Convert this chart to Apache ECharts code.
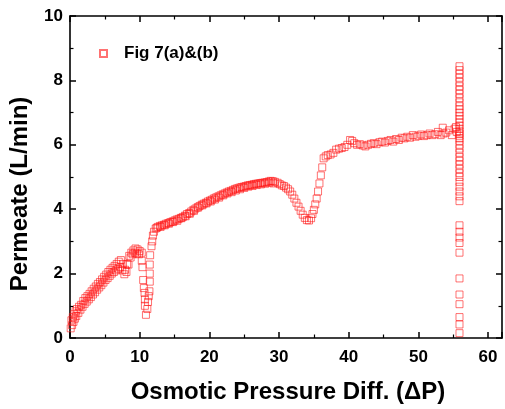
<!DOCTYPE html>
<html>
<head>
<meta charset="utf-8">
<script src="https://cdn.jsdelivr.net/npm/echarts@6/dist/echarts.min.js"></script>
<style>
html,body{margin:0;padding:0;background:#fff;}
#chart{width:505px;height:409px;}
</style>
</head>
<body>
<div id="chart"></div>
<script>
// ---- data (x = osmotic pressure diff, y = permeate) ----
var xTicks = [0, 10, 20, 30, 40, 50, 60];
var yTicks = [0, 2, 4, 6, 8, 10];
var seriesName = 'Fig 7(a)&(b)';

var rampUpper = [[0.2,0.55],[0.4,0.65],[0.6,0.75],[0.8,0.83],[1.0,0.9],[1.3,0.97],[1.6,1.03],[1.9,1.15],[2.2,1.24],[2.5,1.3],[2.8,1.37],[3.1,1.45],[3.4,1.53],[3.7,1.6],[4.0,1.68],[4.3,1.74],[4.6,1.82],[4.9,1.9],[5.2,1.97],[5.5,2.05],[5.8,2.12],[6.1,2.18],[6.4,2.24],[6.7,2.3],[7.0,2.37],[7.3,2.42],[7.6,2.3],[7.9,2.12],[8.2,2.3],[8.5,2.55],[8.8,2.65],[9.1,2.72],[9.4,2.78],[9.7,2.75],[10.0,2.7],[10.3,2.65]];
var rampLower = [[0.1,0.3],[0.3,0.4],[0.5,0.5],[0.7,0.6],[0.9,0.68],[1.2,0.78],[1.5,0.88],[1.8,0.97],[2.1,1.06],[2.4,1.13],[2.7,1.2],[3.0,1.27],[3.3,1.35],[3.6,1.42],[3.9,1.5],[4.2,1.57],[4.5,1.64],[4.8,1.72],[5.1,1.8],[5.4,1.86],[5.7,1.93],[6.0,2.0],[6.3,2.05],[6.6,2.1],[6.9,2.15],[7.2,2.2],[7.5,2.1],[7.8,1.98],[8.1,2.05],[8.4,2.28],[8.7,2.5],[9.0,2.6],[9.3,2.65],[9.6,2.62],[9.9,2.6]];
var dipA = [[10.3,2.4],[10.4,2.2],[10.5,1.8],[10.6,1.55],[10.7,1.4],[10.75,1.2],[10.75,1.0],[10.9,0.72],[11.1,0.9],[11.2,1.12],[11.3,1.3],[11.4,1.45],[11.45,1.75],[11.45,2.0],[11.45,2.28],[11.5,2.57],[11.7,2.85],[11.8,3.0],[11.9,3.18],[12.05,3.3]];
var riseB = [[12.3,3.4],[12.6,3.45],[12.9,3.48],[13.2,3.5],[13.5,3.52],[13.8,3.55],[14.1,3.57],[14.4,3.6],[14.7,3.62],[15.0,3.65],[15.3,3.68],[15.6,3.7],[15.9,3.73],[16.2,3.76],[16.5,3.8],[16.8,3.85],[17.1,3.88],[17.4,3.93],[17.7,3.98],[18.0,4.02],[18.3,4.06],[18.6,4.1],[18.9,4.14],[19.2,4.17],[19.5,4.2],[19.8,4.24],[20.1,4.27],[20.4,4.3],[20.7,4.34],[21.0,4.37],[21.3,4.4],[21.6,4.43],[21.9,4.46],[22.2,4.49],[22.5,4.52],[22.8,4.55],[23.1,4.57],[23.4,4.6],[23.7,4.63],[24.0,4.65],[24.3,4.67],[24.6,4.69],[24.9,4.7],[25.2,4.72],[25.5,4.74],[25.8,4.75],[26.1,4.76],[26.4,4.78],[26.7,4.79],[27.0,4.8],[27.3,4.81],[27.6,4.82],[27.9,4.83],[28.2,4.84],[28.5,4.86],[28.8,4.88],[29.1,4.87],[29.4,4.85]];
var riseBScatter = [[12.45,3.42],[13.0,3.45],[13.6,3.5],[14.2,3.55],[14.8,3.6],[15.4,3.64],[16.0,3.72],[16.6,3.78],[17.2,3.86],[17.8,3.95],[18.4,4.05],[19.0,4.12],[19.6,4.18],[20.2,4.24],[20.8,4.3],[21.4,4.36],[22.0,4.43],[22.6,4.49],[23.2,4.53],[23.8,4.58],[24.4,4.62],[25.0,4.66],[25.6,4.7],[26.2,4.72],[26.8,4.75],[27.4,4.77],[28.0,4.79],[28.6,4.82],[29.2,4.8]];
var dipB = [[29.8,4.82],[30.1,4.78],[30.4,4.74],[30.7,4.72],[31.0,4.67],[31.3,4.62],[31.6,4.55],[31.9,4.45],[32.2,4.33],[32.5,4.2],[32.8,4.08],[33.1,3.95],[33.4,3.83],[33.7,3.73],[34.0,3.66],[34.3,3.65],[34.6,3.72],[34.8,3.85],[35.0,3.98],[35.2,4.15],[35.4,4.33],[35.6,4.55],[35.8,4.8],[36.0,5.05],[36.2,5.3],[36.4,5.58],[36.7,5.64],[37.0,5.68],[37.4,5.7],[37.8,5.75],[38.2,5.85],[38.6,5.88],[39.0,5.9],[39.4,5.93],[39.8,6.0],[40.2,6.15],[40.5,6.12]];
var plateauC = [[40.8,6.05],[41.2,6.0],[41.6,6.02],[42.0,5.98],[42.4,5.95],[42.8,6.0],[43.2,6.03],[43.6,6.05],[44.0,6.02],[44.4,6.08],[44.8,6.1],[45.2,6.07],[45.6,6.12],[46.0,6.15],[46.4,6.1],[46.8,6.18],[47.2,6.15],[47.6,6.22],[48.0,6.2],[48.4,6.25],[48.8,6.22],[49.2,6.3],[49.6,6.25],[50.0,6.28],[50.4,6.32],[50.8,6.27],[51.2,6.3],[51.6,6.35],[52.0,6.3],[52.4,6.33],[52.8,6.4],[53.2,6.3],[53.5,6.53],[53.6,6.35],[54.0,6.38],[54.4,6.45],[54.8,6.3],[55.2,6.5],[55.4,6.55],[55.5,6.4]];
var columnX = 55.9;
var columnY = [8.44,8.32,8.2,8.08,7.95,7.82,7.7,7.58,7.45,7.32,7.2,7.1,7.0,6.9,6.8,6.7,6.6,6.5,6.42,6.35,6.28,6.2,6.12,6.0,5.88,5.75,5.62,5.5,5.38,5.25,5.12,5.0,4.85,4.7,4.55,4.4,4.25,3.5,3.3,3.12,2.95,2.65,1.85,1.35,1.05,0.65,0.42,0.15];

var points = [].concat(rampUpper, rampLower, dipA, riseB, riseBScatter, dipB, plateauC,
  columnY.map(function (v) { return [columnX, v]; }));

var FONT = "'Liberation Sans', Arial, sans-serif";
var chart = echarts.init(document.getElementById('chart'), null, {renderer: 'canvas'});

function xAxisCfg(pos, showLabel) {
  return {
    type: 'value', position: pos, min: 0, max: 62, interval: 10,
    axisLine: {show: true, onZero: false, lineStyle: {color: '#000', width: 1.6}},
    axisTick: {show: true, inside: true, length: 6, lineStyle: {color: '#000', width: 1.5}},
    minorTick: {show: true, splitNumber: 2, length: 3.5, lineStyle: {color: '#000', width: 1.2}},
    splitLine: {show: false},
    axisLabel: {
      show: showLabel, margin: 11, color: '#000', fontSize: 17, fontWeight: 'bold', fontFamily: FONT,
      formatter: function (v) { return xTicks.indexOf(v) >= 0 ? String(v) : ''; }
    }
  };
}
function yAxisCfg(pos, showLabel) {
  return {
    type: 'value', position: pos, min: 0, max: 10, interval: 2,
    axisLine: {show: true, onZero: false, lineStyle: {color: '#000', width: 1.6}},
    axisTick: {show: true, inside: true, length: 6, lineStyle: {color: '#000', width: 1.5}},
    minorTick: {show: true, splitNumber: 2, length: 3.5, lineStyle: {color: '#000', width: 1.2}},
    splitLine: {show: false},
    axisLabel: {
      show: showLabel, margin: 7, color: '#000', fontSize: 17, fontWeight: 'bold', fontFamily: FONT,
      formatter: function (v) { return yTicks.indexOf(v) >= 0 ? String(v) : ''; }
    }
  };
}

chart.setOption({
  animation: false,
  backgroundColor: '#fff',
  grid: {left: 70, right: 2, top: 16, bottom: 71, containLabel: false},
  xAxis: [xAxisCfg('bottom', true), xAxisCfg('top', false)],
  yAxis: [yAxisCfg('left', true), yAxisCfg('right', false)],
  legend: {
    show: true, left: 94, top: 40, orient: 'vertical',
    itemWidth: 31, itemHeight: 7, symbolKeepAspect: true,
    icon: 'path://M0,0L10,0L10,10L0,10Z',
    textStyle: {color: '#000', fontSize: 17, fontWeight: 'bold', fontFamily: FONT},
    data: [seriesName]
  },
  graphic: [
    {type: 'text', x: 288, y: 392, silent: true,
      style: {text: 'Osmotic Pressure Diff. (\u0394P)', fill: '#000', font: 'bold 24px ' + FONT, textAlign: 'center', textVerticalAlign: 'middle'}},
    {type: 'text', x: 20, y: 194, rotation: Math.PI / 2, silent: true,
      style: {text: 'Permeate (L/min)', fill: '#000', font: 'bold 24px ' + FONT, textAlign: 'center', textVerticalAlign: 'middle'}}
  ],
  series: [{
    name: seriesName, type: 'scatter', xAxisIndex: 0, yAxisIndex: 0,
    symbol: 'rect', symbolSize: 7,
    itemStyle: {color: 'rgba(255,255,255,0)', borderColor: 'rgba(255,20,20,0.75)', borderWidth: 1},
    data: points
  }]
});
</script>
</body>
</html>
